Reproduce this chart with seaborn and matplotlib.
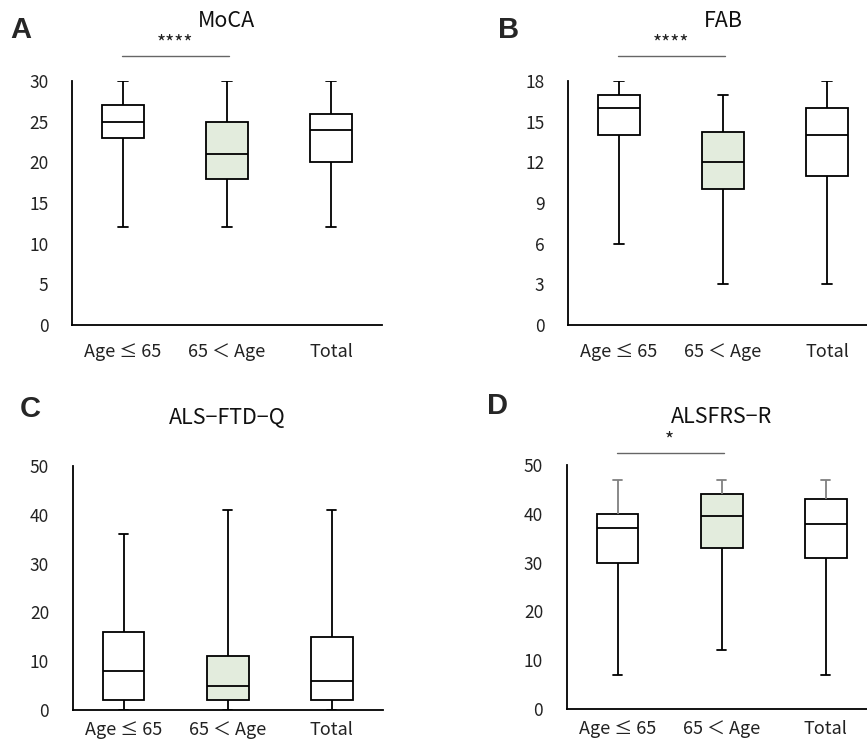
import numpy as np
import pandas as pd
import matplotlib
matplotlib.use("Agg")
import matplotlib.pyplot as plt
import seaborn as sns

# five-number summaries: min, Q1, median, Q3, max
groups = ["Age ≤ 65", "65 ＜ Age", "Total"]
moca = [[12, 23, 25, 27, 30], [12, 18, 21, 25, 30], [12, 20, 24, 26, 30]]
fab = [[6, 14, 16, 17, 18], [3, 10, 12, 14.25, 17], [3, 11, 14, 16, 18]]
alsftdq = [[0, 2, 8, 16, 36], [0, 2, 5, 11, 41], [0, 2, 6, 15, 41]]
alsfrs = [[7, 30, 37, 40, 47], [12, 33, 39.5, 44, 47], [7, 31, 38, 43, 47]]

box_colors = {"Age ≤ 65": "white", "65 ＜ Age": "#e2efda", "Total": "white"}

sns.set_theme(style="white")
plt.rcParams['font.family'] = ['Noto Sans CJK JP', 'DejaVu Sans']

W, H = 867, 741
fig = plt.figure(figsize=(W / 100, H / 100), dpi=100)


def px_axes(left, top, right, bottom):
    return fig.add_axes([left / W, 1 - bottom / H, (right - left) / W, (bottom - top) / H])


def panel(ax, summary, title, ymax, yticks, title_y, sig=None, gray_upper=False, xpad=13):
    df = pd.DataFrame({
        "group": np.repeat(groups, 5),
        "value": np.concatenate(summary),
    })
    sns.boxplot(data=df, x="group", y="value", hue="group", palette=box_colors,
                whis=np.inf, width=0.4, linecolor="black", linewidth=1.3,
                legend=False, ax=ax, capwidths=0.09)
    ax.set_xlim(-0.49, 2.49)
    ax.set_ylim(0, ymax)
    ax.set_yticks(yticks)
    ax.set_xlabel("")
    ax.set_ylabel("")
    ax.tick_params(axis="y", length=0, pad=17, labelsize=12.5, colors="#222222")
    ax.tick_params(axis="x", length=0, pad=xpad, labelsize=13, colors="#222222")
    sns.despine(ax=ax)
    for s in ["left", "bottom"]:
        ax.spines[s].set_color("black")
        ax.spines[s].set_linewidth(1.3)
    ax.text(0.5, title_y, title, transform=ax.transAxes, ha="center", va="center",
            fontsize=15.5, color="#111111")
    if sig is not None:
        stars, line_y = sig
        tr = ax.get_xaxis_transform()
        ax.plot([-0.01, 1.02], [line_y, line_y], color="#666666", lw=1.0,
                transform=tr, clip_on=False)
        ax.text(0.5, line_y + 0.003, stars, transform=tr, ha="center", va="bottom",
                fontsize=14, color="#222222")
    if gray_upper:
        for ln in ax.lines:
            xd = np.asarray(ln.get_xdata(), dtype=float)
            yd = np.asarray(ln.get_ydata(), dtype=float)
            if len(xd) != 2:
                continue
            i = int(round(xd.mean()))
            if 0 <= i < 3 and yd.min() >= summary[i][3] and yd.max() > summary[i][3]:
                ln.set_color("#808080")


axA = px_axes(72, 81, 382, 325)
panel(axA, moca, "MoCA", 30, [0, 5, 10, 15, 20, 25, 30], 1.246, ("****", 1.104))

axB = px_axes(568, 81, 878, 325)
panel(axB, fab, "FAB", 18, [0, 3, 6, 9, 12, 15, 18], 1.246, ("****", 1.104))

axC = px_axes(72.7, 466, 382.7, 710)
panel(axC, alsftdq, "ALS−FTD−Q", 50, [0, 10, 20, 30, 40, 50], 1.197, xpad=8)

axD = px_axes(566.7, 465, 876.7, 709)
panel(axD, alsfrs, "ALSFRS−R", 50, [0, 10, 20, 30, 40, 50], 1.197, ("*", 1.05),
      gray_upper=True, xpad=8)

for letter, x, y in [("A", 10, 30), ("B", 498, 30), ("C", 20, 409), ("D", 487, 406)]:
    fig.text(x / W, 1 - y / H, letter, ha="left", va="center", fontsize=21,
             fontweight="bold", family="Liberation Sans")

fig.savefig("out.png", dpi=100)
